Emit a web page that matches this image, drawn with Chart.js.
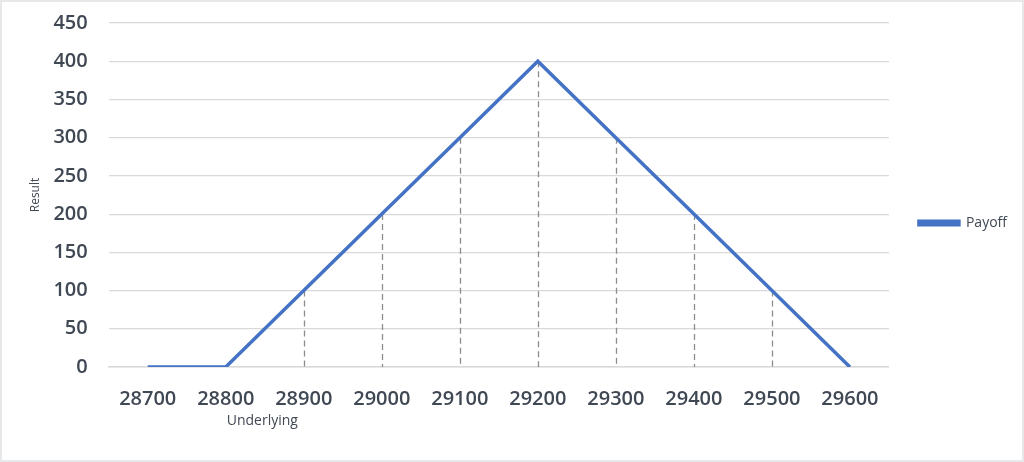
<!DOCTYPE html>
<html>
<head>
<meta charset="utf-8">
<script src="https://cdn.jsdelivr.net/npm/chart.js@4/dist/chart.umd.min.js"></script>
<style>
  html, body { margin: 0; padding: 0; background: #ffffff; }
  #box { width: 1020px; height: 458px; border: 2px solid #e6e8ea; background: #fff; }
</style>
</head>
<body>
<div id="box"><canvas id="payoff_chart" width="1020" height="458"></canvas></div>
<script>
// 데이터
var underlying = ['28700', '28800', '28900', '29000', '29100', '29200', '29300', '29400', '29500', '29600'];
var payoff = [0, 0, 100, 200, 300, 400, 300, 200, 100, 0];
var xTitle = 'Underlying';
var yTitle = 'Result';

var textColor = '#404854';
var gridColor = '#d9d9d9';

// 점에서 0 까지 점선 (엑셀 drop line)
var dropLinesPlugin = {
	id: 'dropLines',
	beforeDatasetsDraw(chart) {
		var ctx = chart.ctx;
		var yScale = chart.scales.y;
		var meta = chart.getDatasetMeta(0);
		var zeroY = yScale.getPixelForValue(0);
		ctx.save();
		ctx.strokeStyle = '#8c8c8c';
		ctx.lineWidth = 1.3;
		ctx.setLineDash([6, 4]);
		meta.data.forEach(function (pt) {
			if (zeroY - pt.y < 1) return;
			ctx.beginPath();
			ctx.moveTo(Math.round(pt.x) + 0.5, pt.y);
			ctx.lineTo(Math.round(pt.x) + 0.5, zeroY);
			ctx.stroke();
		});
		ctx.restore();
	}
};

// x축 제목은 28800 아래에 왼쪽 정렬
var xTitlePlugin = {
	id: 'xTitleLeft',
	afterDraw(chart) {
		var ctx = chart.ctx;
		var xScale = chart.scales.x;
		ctx.save();
		ctx.font = '14px "Open Sans"';
		ctx.fillStyle = textColor;
		ctx.textAlign = 'left';
		ctx.textBaseline = 'middle';
		ctx.fillText(xTitle, xScale.getPixelForValue(1) + 1, 419);
		ctx.restore();
	}
};

var myChart = new Chart(document.getElementById('payoff_chart'), {
	type: 'line',
	data: {
		labels: underlying,
		datasets: [{
			label: 'Payoff',
			data: payoff,
			borderColor: '#4472c4',
			backgroundColor: '#4472c4',
			borderWidth: 3.5,
			pointRadius: 0,
			tension: 0,
			fill: false
		}]
	},
	options: {
		responsive: false,
		animation: false,
		layout: {
			padding: { top: 21, left: 0, right: 5, bottom: 37 }
		},
		plugins: {
			legend: {
				position: 'right',
				labels: {
					boxWidth: 40,
					boxHeight: 3.5,
					padding: 30,
					color: textColor,
					font: { size: 14, family: 'Open Sans' }
				}
			},
			tooltip: { enabled: false }
		},
		scales: {
			x: {
				offset: true,
				grid: { display: false },
				border: { color: gridColor, width: 1.5 },
				ticks: {
					color: textColor,
					padding: 12,
					maxRotation: 0,
					font: { size: 20, weight: '600', family: 'Open Sans' }
				}
			},
			y: {
				min: 0,
				max: 450,
				grid: { color: gridColor, lineWidth: 1.2, drawTicks: true, tickLength: 18, tickColor: 'rgba(0,0,0,0)' },
				border: { display: false },
				ticks: {
					stepSize: 50,
					color: textColor,
					padding: 3,
					font: { size: 20, weight: '600', family: 'Open Sans' }
				},
				title: {
					display: true,
					text: yTitle,
					color: textColor,
					padding: { top: 26, bottom: 8 },
					font: { size: 12, family: 'Open Sans' }
				}
			}
		}
	},
	plugins: [dropLinesPlugin, xTitlePlugin]
});
</script>
</body>
</html>
